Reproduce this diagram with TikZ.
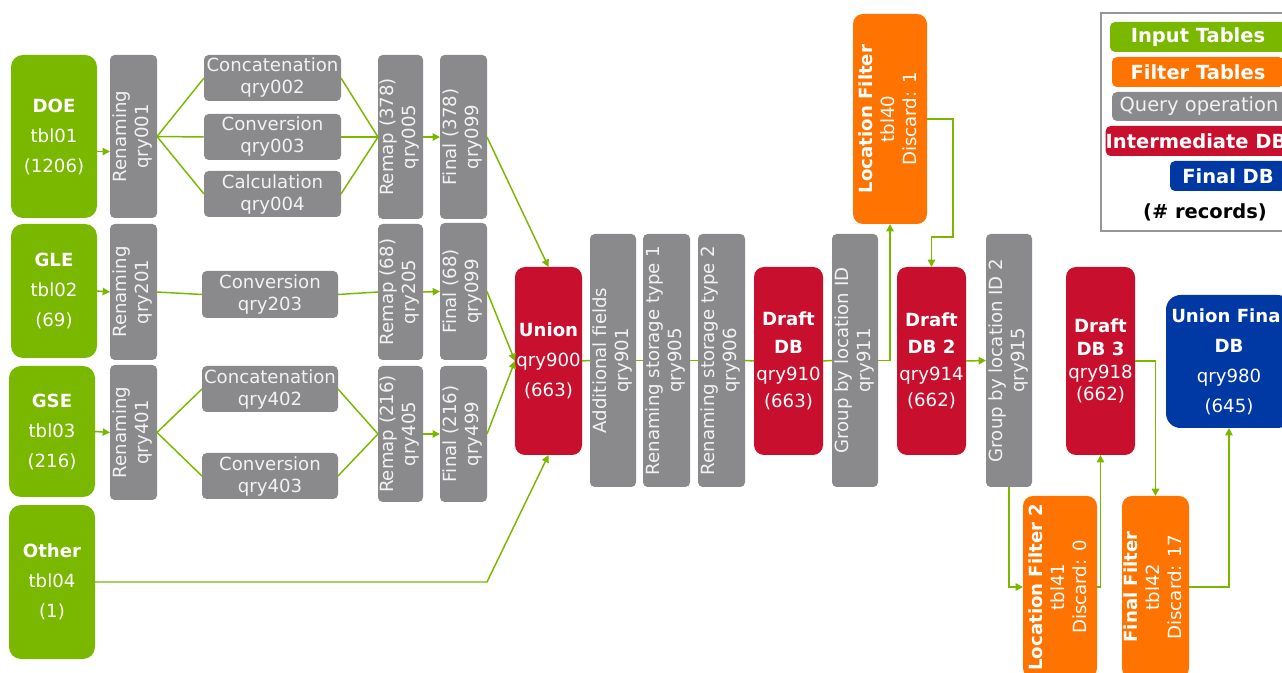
\documentclass[tikz,border=0pt]{standalone}
\usepackage{fontspec}
\setmainfont{DejaVu Sans}
\usepackage{graphicx}
\usetikzlibrary{arrows.meta}

\definecolor{ingreen}{RGB}{122,184,0}
\definecolor{qgray}{RGB}{138,138,140}
\definecolor{qtext}{RGB}{242,242,242}
\definecolor{dbred}{RGB}{200,16,46}
\definecolor{forange}{RGB}{255,115,0}
\definecolor{dbblue}{RGB}{0,56,164}
\definecolor{legline}{RGB}{150,150,150}

% vertical (bottom-to-top) multi-line label
\newcommand\vlab[1]{\rotatebox{90}{\begin{tabular}{@{}c@{}}#1\end{tabular}}}

\begin{document}
\begin{tikzpicture}[x=0.75pt, y=-0.75pt,
  every node/.style={inner sep=0pt, outer sep=0pt},
  at box/.style n args={4}{at={({(#1+#3)/2},{(#2+#4)/2})},
    minimum width={(#3-#1)*0.75pt}, minimum height={(#4-#2)*0.75pt}},
  txt/.style={align=center, font=\fontsize{13.6}{#1}\selectfont},
  legtxt/.style={align=center, font=\fontsize{14.6}{16.5}\selectfont},
  qop/.style={rectangle, fill=qgray, rounded corners=3.5pt, text=qtext, txt=16.5},
  intab/.style={rectangle, fill=ingreen, rounded corners=9pt, text=white, txt=22.5},
  filt/.style={rectangle, fill=forange, rounded corners=7.5pt, text=white, txt=16.5},
  midb/.style={rectangle, fill=dbred, rounded corners=7.5pt, text=white},
  findb/.style={rectangle, fill=dbblue, rounded corners=11pt, text=white, txt=22.5},
  legitem/.style={rectangle, rounded corners=3.75pt, text=white, legtxt},
  link/.style={draw=ingreen, line width=1.1pt},
  arr/.style={link, -{Triangle[length=5.5pt,width=5.5pt]}},
]
\useasboundingbox (0,0) rectangle (1282,673);
\clip (0,0) rectangle (1282,673);

% input tables
\node[intab, at box={11}{55}{97}{218}]  (doe) {\textbf{DOE}\\tbl01\\(1206)};
\node[intab, at box={11}{224}{97}{358}] (gle) {\textbf{GLE}\\tbl02\\(69)};
\node[intab, at box={9}{366}{95}{497}]  (gse) {\textbf{GSE}\\tbl03\\(216)};
\node[intab, at box={9}{505}{95}{659}]  (oth) {\textbf{Other}\\tbl04\\(1)};

% renaming queries
\node[qop, at box={110}{55}{157}{218}]  (r001) {\vlab{Renaming\\qry001}};
\node[qop, at box={110}{224}{157}{360}] (r201) {\vlab{Renaming\\qry201}};
\node[qop, at box={110}{365}{157}{500}] (r401) {\vlab{Renaming\\qry401}};

% field operations
\node[qop, at box={204}{55}{341}{101}]  (c002) {Concatenation\\qry002};
\node[qop, at box={204}{114}{341}{160}] (c003) {Conversion\\qry003};
\node[qop, at box={204}{171}{341}{217}] (c004) {Calculation\\qry004};
\node[qop, at box={202}{271}{338}{318}] (c203) {Conversion\\qry203};
\node[qop, at box={202}{366}{338}{412}] (c402) {Concatenation\\qry402};
\node[qop, at box={202}{453}{338}{499}] (c403) {Conversion\\qry403};

% remap and final queries
\node[qop, at box={378}{55}{423}{219}]  (m005)  {\vlab{Remap (378)\\qry005}};
\node[qop, at box={440}{55}{487}{219}]  (f099a) {\vlab{Final (378)\\qry099}};
\node[qop, at box={378}{224}{423}{360}] (m205)  {\vlab{Remap (68)\\qry205}};
\node[qop, at box={440}{223}{487}{360}] (f099b) {\vlab{Final (68)\\qry099}};
\node[qop, at box={378}{366}{423}{502}] (m405)  {\vlab{Remap (216)\\qry405}};
\node[qop, at box={440}{366}{487}{502}] (f499)  {\vlab{Final (216)\\qry499}};

% union and processing chain
\node[midb, txt=22.5, at box={515}{267}{582}{455}] (union) {\textbf{Union}\\qry900\\(663)};
\node[qop, at box={590}{234}{636}{487}] (q901) {\vlab{Additional fields\\qry901}};
\node[qop, at box={643}{234}{690}{487}] (q905) {\vlab{Renaming storage type 1\\qry905}};
\node[qop, at box={698}{234}{745}{487}] (q906) {\vlab{Renaming storage type 2\\qry906}};
\node[midb, txt=20.5, at box={754}{267}{823}{455}] (db1) {\textbf{Draft}\\\textbf{DB}\\qry910\\(663)};
\node[qop, at box={832}{234}{878}{487}] (q911) {\vlab{Group by location ID\\qry911}};
\node[filt, at box={853}{14}{927}{224}] (lf1) {\vlab{\textbf{Location Filter}\\tbl40\\Discard: 1}};
\node[midb, txt=20, at box={897}{267}{966}{455}] (db2) {\textbf{Draft}\\\textbf{DB 2}\\qry914\\(662)};
\node[qop, at box={986}{234}{1032}{487}] (q915) {\vlab{Group by location ID 2\\qry915}};
\node[midb, txt=17, at box={1066}{267}{1135}{455}] (db3) {\textbf{Draft}\\\textbf{DB 3}\\qry918\\(662)};
\node[filt, at box={1023}{496}{1097}{678}] (lf2) {\vlab{\textbf{Location Filter 2}\\tbl41\\Discard: 0}};
\node[filt, at box={1122}{496}{1189}{678}] (ff) {\vlab{\textbf{Final Filter}\\tbl42\\Discard: 17}};
\node[findb, at box={1166}{295}{1292}{428}] (ufdb) {\textbf{Union Final}\\\textbf{DB}\\qry980\\(645)};

% connectors: DOE branch
\draw[arr] ([yshift=-11.25pt]doe.east) -- ([yshift=-11.25pt]r001.west);
\draw[link] (r001.east) -- (c002.west);
\draw[link] (r001.east) -- (c003.west);
\draw[link] (r001.east) -- (c004.west);
\draw[link] (c002.east) -- (m005.west);
\draw[link] (c003.east) -- (m005.west);
\draw[link] (c004.east) -- (m005.west);
\draw[arr] (m005.east) -- (f099a.west);
\draw[arr] (f099a.east) -- (union.north);

% GLE branch
\draw[arr] (gle.east) -- (r201.west);
\draw[link] (r201.east) -- (c203.west);
\draw[link] (c203.east) -- (m205.west);
\draw[arr] (m205.east) -- (f099b.west);
\draw[arr] (f099b.east) -- (union.west);

% GSE branch
\draw[arr] (gse.east) -- (r401.west);
\draw[link] (r401.east) -- (c402.west);
\draw[link] (r401.east) -- (c403.west);
\draw[link] (c402.east) -- (m405.west);
\draw[link] (c403.east) -- (m405.west);
\draw[arr] (m405.east) -- (f499.west);
\draw[arr] (f499.east) -- (union.west);

% Other
\draw[arr] (oth.east) -- (oth.east -| f499.east) -- (union.south);

% main chain
\draw[link] (union.east) -- (q901.west);
\draw[link] (q901.east) -- (q905.west);
\draw[link] (q905.east) -- (q906.west);
\draw[link] (q906.east) -- (db1.west);
\draw[link] (db1.east) -- (q911.west);
\draw[arr] (q911.east) -| (lf1.south);
\coordinate (lfbend) at (953,237);
\draw[arr] (lf1.east) -| (lfbend) -| (db2.north);
\draw[arr] (db2.east) -- (q915.west);
\draw[arr] (q915.south) |- (lf2.west);
\draw[arr] (lf2.east) -| (db3.south);
\draw[arr] (db3.east) -| (ff.north);
\draw[arr] (ff.east) -| (ufdb.south);

% legend
\draw[legline, line width=0.9pt] (1101,13) rectangle (1300,231);
\node[legitem, fill=ingreen, at box={1110}{22}{1286}{52}] (lgin) {\textbf{Input Tables}};
\node[legitem, fill=forange, at box={1112}{57}{1284}{87}] (lgft) {\textbf{Filter Tables}};
\node[legitem, fill=qgray, text=qtext, at box={1112}{92}{1286}{121}] (lgq) {Query operation};
\node[legitem, fill=dbred, at box={1108}{126}{1284}{156}] (lgmid) {\textbf{Intermediate DB}};
\node[legitem, fill=dbblue, at box={1170}{161}{1286}{191}] (lgfin) {\textbf{Final DB}};
\node[legtxt, text=black] (lgrec) at (1205,212) {\textbf{(\# records)}};
\end{tikzpicture}
\end{document}
